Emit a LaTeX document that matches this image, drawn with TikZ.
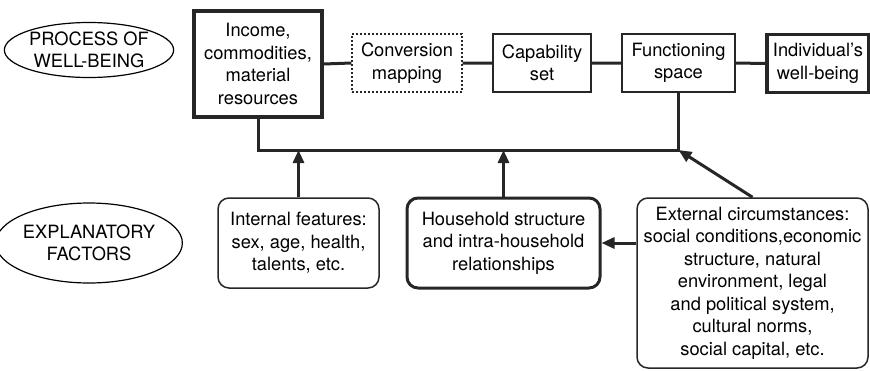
\documentclass[tikz,border=0pt]{standalone}
\usepackage{fontspec}
\setmainfont{TeX Gyre Heros}
\usetikzlibrary{shapes.geometric, arrows.meta, positioning, calc}

\begin{document}
\begin{tikzpicture}[x=1pt, y=-1pt,
            every node/.style={font=\fontsize{18.3}{22.5}\selectfont, align=center, inner sep=0pt},
            lbl/.style={ellipse, draw=black, line width=1.2pt},
            box/.style={rectangle, draw=black!85, line width=1.6pt},
            thickbox/.style={rectangle, draw=black!85, line width=3.2pt},
            dbox/.style={rectangle, draw=black!85, line width=1.2pt, dash pattern=on 2pt off 2pt},
            rbox/.style={rectangle, rounded corners=11pt, draw=black!85, line width=1.5pt},
            link/.style={draw=black!85, line width=3pt},
            arr/.style={link, -{Triangle[length=13pt, width=11pt]}}]
            \useasboundingbox (0,0) rectangle (870,370);
            \node[lbl, minimum width=160, minimum height=55] (proc) at (89,50) {PROCESS OF\\WELL-BEING};
            \node[lbl, minimum width=160, minimum height=80] (expl) at (89,243) {EXPLANATORY\\FACTORS};
            \node[thickbox, minimum width=128, minimum height=106] (inc) at (258,64) {Income,\\commodities,\\material\\resources};
            \node[dbox, minimum width=110, minimum height=58] (conv) at (407,63) {Conversion\\mapping};
            \node[box, minimum width=98, minimum height=58] (cap) at (542,63) {Capability\\set};
            \node[box, minimum width=113, minimum height=58] (func) at (678.5,63) {Functioning\\space};
            \node[thickbox, minimum width=102, minimum height=58] (indiv) at (818,63.5) {Individual's\\well-being};
            \node[rbox, minimum width=161, minimum height=90] (intf) at (298.5,243) {Internal features:\\sex, age, health,\\talents, etc.};
            \node[rbox, line width=3pt, minimum width=193, minimum height=90] (house) at (503.5,243) {Household structure\\and intra-household\\relationships};
            \node[rbox, minimum width=231, minimum height=170] (ext) at (752.5,283) {External circumstances:\\social conditions,economic\\structure, natural\\environment, legal\\and political system,\\cultural norms,\\social capital, etc.};
            \coordinate (jl) at (inc.south |- 0,150);
            \coordinate (jr) at (func.south |- 0,150);
            \draw[link] (inc.east) -- (conv.west) (conv.east) -- (cap.west) (cap.east) -- (func.west) (func.east) -- (indiv.west);
            \draw[link] (inc.south) -- (jl) -- (jr) -- (func.south);
            \draw[arr] (intf.north) -- (intf.north |- jl);
            \draw[arr] (house.north) -- (house.north |- jl);
            \draw[arr] (ext.north) -- (jr);
            \draw[arr] (ext.west |- house.east) -- (house.east);
        \end{tikzpicture}
\end{document}
